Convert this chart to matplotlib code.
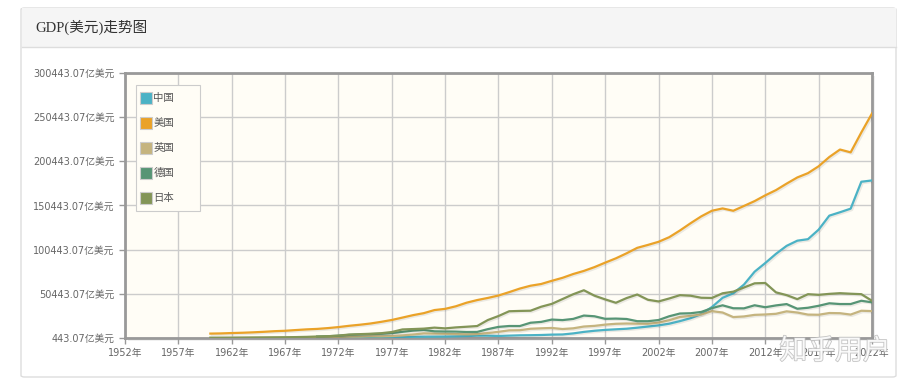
import matplotlib
matplotlib.use('Agg')
import matplotlib.pyplot as plt
import matplotlib.patches as mpatches
import matplotlib.patheffects as pe
import numpy as np

plt.rcParams['font.family'] = ['DejaVu Sans', 'Noto Sans CJK SC']

years = list(range(1960, 2023))

# GDP, 亿美元
china = [597, 500, 472, 507, 593, 704, 767, 727, 700, 786,
         926, 998, 1137, 1385, 1442, 1632, 1539, 1749, 1495, 1783,
         1911, 1960, 2050, 2302, 2599, 3094, 3008, 2729, 3123, 3477,
         3609, 3834, 4269, 4447, 5643, 7345, 8637, 9615, 10290, 10940,
         12113, 13394, 14705, 16603, 19553, 22860, 27521, 35505, 45944, 51017,
         60872, 75515, 85321, 95704, 104757, 110616, 112333, 123104, 138948, 142799,
         146877, 177341, 178817]
usa = [5433, 5633, 6051, 6386, 6858, 7437, 8150, 8617, 9425, 10199,
       10734, 11648, 12793, 14256, 15452, 16848, 18737, 20856, 23566, 26327,
       28573, 32073, 33433, 36343, 40373, 43387, 45798, 48550, 52366, 56415,
       59631, 61582, 65201, 68588, 72873, 76397, 80732, 85779, 90629, 96312,
       102510, 105819, 109362, 114580, 122137, 130370, 138149, 144518, 147129, 144488,
       149921, 155426, 161970, 167848, 175217, 182193, 187071, 194854, 205330, 213810,
       210605, 233151, 254627]
uk = [732, 775, 813, 866, 942, 1012, 1076, 1114, 1077, 1165,
      1306, 1485, 1698, 1929, 2062, 2413, 2321, 2636, 3355, 4384,
      5644, 5403, 5154, 4895, 4610, 4893, 6013, 7450, 9103, 9261,
      10932, 11428, 11797, 10613, 11409, 13440, 14182, 15606, 16535, 16874,
      16658, 16497, 17852, 20541, 24219, 25432, 27080, 30858, 29295, 24122,
      24852, 26634, 27073, 27847, 30641, 29282, 26945, 26763, 28716, 28513,
      26970, 31314, 30891]
germany = [None] * 10 + [
    2159, 2494, 2997, 3983, 4454, 4906, 5197, 6003, 7405, 8815,
    9501, 8005, 7763, 7703, 7260, 7324, 10464, 13021, 14017, 13985,
    17716, 18681, 21312, 20714, 22057, 25857, 25033, 22160, 22425, 21969,
    19480, 19443, 20790, 25059, 28149, 28461, 29946, 34251, 37455, 34115,
    33999, 37497, 35273, 37331, 38837, 33568, 34677, 36903, 39740, 38891,
    38896, 42599, 40825]
japan = [443.07, 538, 609, 698, 816, 910, 1058, 1238, 1469, 1720,
         2127, 2403, 3183, 4324, 4793, 5217, 5862, 7215, 10135, 10558,
         11053, 12184, 11347, 12437, 13188, 13988, 20785, 25328, 30717, 31090,
         31328, 35845, 39088, 44545, 49988, 54493, 48336, 44146, 40325, 45625,
         49683, 43741, 41827, 45194, 48935, 48311, 46015, 45795, 51062, 52890,
         57591, 62333, 62722, 52122, 48965, 44449, 50037, 49308, 50409, 51179,
         50554, 50058, 42564]

names = ['中国', '美国', '英国', '德国', '日本']
series = [china, usa, uk, germany, japan]
colors = ['#4bb2c5', '#eaa228', '#c5b47f', '#579575', '#839557']

ymin = 443.07
ystep = 50000
yticks = [ymin + i * ystep for i in range(7)]
xticks = list(range(1952, 2023, 5))

W, H = 910, 385
fig = plt.figure(figsize=(W / 100, H / 100), dpi=100)
fig.patch.set_facecolor('white')


def fx(px):
    return px / W


def fy(py):
    # pixel rows counted from the top
    return 1 - py / H


# card panel (kept behind the axes)
card = mpatches.FancyBboxPatch((fx(21), fy(377)), fx(875), 369 / H,
                               boxstyle='round,pad=0,rounding_size=0.004',
                               transform=fig.transFigure, facecolor='white',
                               edgecolor='#dddddd', lw=1, zorder=-3)
fig.patches.append(card)
header = mpatches.Rectangle((fx(21.5), fy(47)), fx(874), 39 / H,
                            transform=fig.transFigure, facecolor='#f5f5f5',
                            edgecolor='none', zorder=-2)
fig.patches.append(header)
fig.lines.append(plt.Line2D([fx(21.5), fx(895.5)], [fy(47)] * 2,
                            transform=fig.transFigure, color='#dddddd', lw=1, zorder=-1))
fig.text(fx(35), fy(27), 'GDP(美元)走势图', fontsize=10.5, color='#333333',
         va='center', ha='left', family=['Liberation Serif', 'Noto Sans CJK SC'])

# soft shadow right/below the plot box
fig.patches.append(mpatches.Rectangle((fx(128), fy(341)), fx(747), 265 / H,
                                      transform=fig.transFigure, facecolor='#000000',
                                      alpha=0.06, edgecolor='none', zorder=-1))

ax = fig.add_axes([fx(125), fy(338), fx(747), 265 / H])
ax.set_facecolor('#fffdf6')

x = np.array(years)
for name, vals, c in zip(names, series, colors):
    y = np.array([np.nan if v is None else v for v in vals], dtype=float)
    ax.plot(x, y, color=c, lw=1.6, label=name, zorder=3,
            path_effects=[pe.SimpleLineShadow(offset=(1, -1), shadow_color='black', alpha=0.08),
                          pe.Normal()])

ax.set_xlim(1952, 2022)
ax.set_ylim(ymin, yticks[-1])
ax.set_xticks(xticks)
ax.set_xticklabels([f'{t}年' for t in xticks])
ax.set_yticks(yticks)
ax.set_yticklabels([f'{t:.2f}亿美元' for t in yticks])
ax.grid(True, color='#cccccc', lw=1)
ax.set_axisbelow(True)
ax.tick_params(axis='both', labelsize=7, colors='#999999', labelcolor='#666666',
               length=4, width=1, direction='out')
for s in ax.spines.values():
    s.set_color('#999999')
    s.set_linewidth(2)

# legend box drawn by hand (jqPlot style)
fig.patches.append(mpatches.Rectangle((fx(136), fy(211)), fx(64), 126 / H,
                                      transform=fig.transFigure, facecolor='#fffdf6',
                                      edgecolor='#cccccc', lw=0.8, zorder=5))
for i, (n, c) in enumerate(zip(names, colors)):
    cy = 98 + 25 * i
    fig.patches.append(mpatches.Rectangle((fx(139.5), fy(cy + 6)), fx(12.5), 12 / H,
                                          transform=fig.transFigure, facecolor=c,
                                          edgecolor='#cccccc', lw=0.8, zorder=6))
    fig.text(fx(153.5), fy(cy), n, fontsize=7.5, color='#555555',
             ha='left', va='center', zorder=6)

# watermark
fig.text(fx(835), fy(351), '知乎用户', fontsize=20, color='white', alpha=0.85,
         ha='center', va='center', zorder=10,
         path_effects=[pe.withStroke(linewidth=1.2, foreground='#bbbbbb')])

fig.savefig('out.png', dpi=100)
